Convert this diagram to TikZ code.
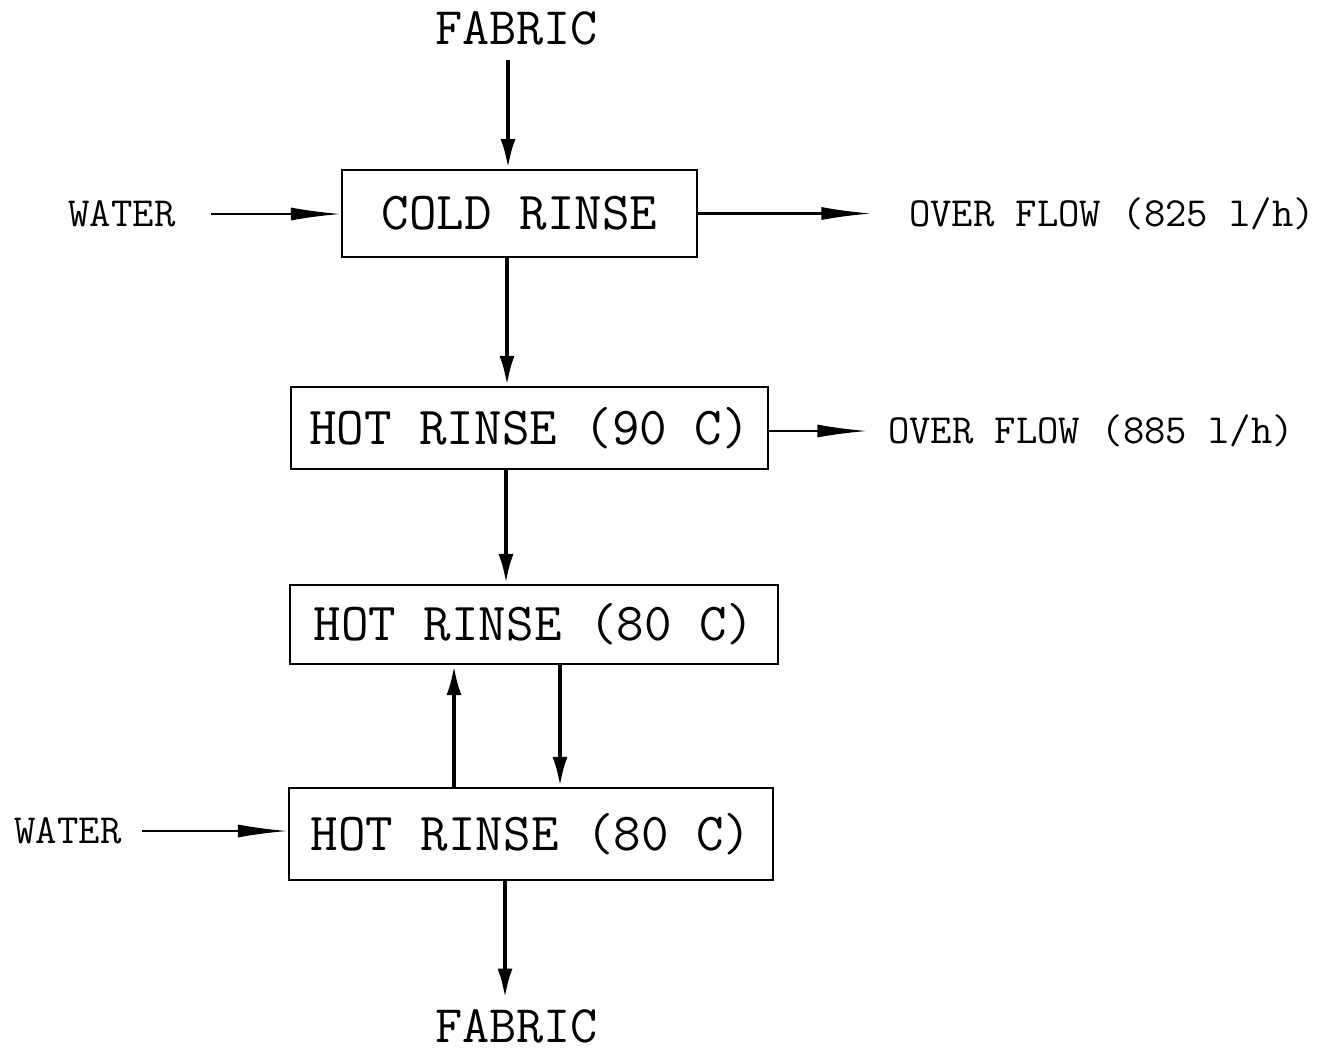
\documentclass[tikz,border=0pt]{standalone}
\usepackage{tikz}
\usetikzlibrary{arrows.meta}

\tikzset{
  rinse/.style={draw, line width=0.6pt, inner sep=0pt, font=\ttfamily\fontsize{15.2}{18}\selectfont},
  biglabel/.style={inner sep=0pt, font=\ttfamily\fontsize{15}{18}\selectfont},
  smalllabel/.style={inner sep=0pt, font=\ttfamily\fontsize{11.8}{14}\selectfont},
  vflow/.style={line width=1.2pt, -{Latex[length=3mm,width=1.5mm]}},
  hflow/.style={line width=0.6pt, -{Latex[length=5mm,width=1.3mm]}}
}

\begin{document}
\begin{tikzpicture}
\useasboundingbox (0,0) rectangle (13.33,-10.5);
\node[biglabel] (fabin) at (5.165,-0.28) {FABRIC};
\node[rinse, minimum width=3.55cm, minimum height=0.87cm] (cold) at (5.195,-2.135) {COLD RINSE};
\node[rinse, minimum width=4.77cm, minimum height=0.82cm] (hot90) at (5.295,-4.28) {HOT RINSE (90 C)};
\node[rinse, minimum width=4.88cm, minimum height=0.79cm] (hotA) at (5.34,-6.245) {HOT RINSE (80 C)};
\node[rinse, minimum width=4.84cm, minimum height=0.92cm] (hotB) at (5.31,-8.34) {HOT RINSE (80 C)};
\node[biglabel] (fabout) at (5.165,-10.26) {FABRIC};
\node[smalllabel] (water1) at (1.22,-2.14) {WATER};
\node[smalllabel] (water2) at (0.68,-8.31) {WATER};
\node[smalllabel] (over1) at (11.12,-2.14) {OVER FLOW (825 l/h)};
\node[smalllabel] (over2) at (10.91,-4.31) {OVER FLOW (885 l/h)};

\draw[vflow, shorten <=1.4mm] ([xshift=-0.85mm]fabin.south) -- ([xshift=-0.85mm]fabin.south |- cold.north);
\draw[vflow] ([xshift=-1.25mm]cold.south) -- ([xshift=-1.25mm]cold.south |- hot90.north);
\draw[vflow] ([xshift=-2.35mm]hot90.south) -- ([xshift=-2.35mm]hot90.south |- hotA.north);
\draw[vflow] ([xshift=-7.7mm]hotB.north) -- ([xshift=-7.7mm]hotB.north |- hotA.south);
\draw[vflow] ([xshift=2.6mm]hotA.south) -- ([xshift=2.6mm]hotA.south |- hotB.north);
\draw[vflow, shorten >=1mm] ([xshift=-2.6mm]hotB.south) -- ([xshift=-2.6mm]hotB.south |- fabout.north);

\draw[hflow, shorten <=3.5mm] (water1.east) -- (water1.east -| cold.west);
\draw[hflow, shorten >=3.7mm] (cold.east) -- (cold.east -| over1.west);
\draw[hflow, shorten >=2mm] (hot90.east |- over2.west) -- (over2.west);
\draw[hflow, shorten <=2mm] (water2.east) -- (water2.east -| hotB.west);
\end{tikzpicture}
\end{document}
